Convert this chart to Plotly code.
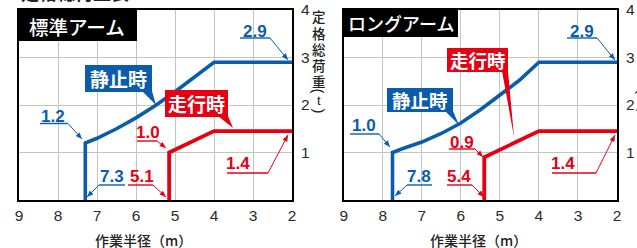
import math
import plotly.graph_objects as go

W, H = 637, 248

# ---------------- data ----------------
x_ticks = [9, 8, 7, 6, 5, 4, 3, 2]
y_ticks = [1, 2, 3, 4]

std_static_x = [7.3, 7.3, 7.0, 6.5, 6.0, 5.5, 5.0, 4.5, 4.0, 2.0]
std_static_y = [0.0, 1.2, 1.3, 1.5, 1.73, 1.99, 2.28, 2.58, 2.9, 2.9]
std_travel_x = [5.15, 5.15, 4.0, 2.0]
std_travel_y = [0.0, 1.0, 1.45, 1.45]

long_static_x = [7.75, 7.75, 7.5, 7.0, 6.5, 6.0, 5.5, 5.0, 4.5, 4.0, 2.0]
long_static_y = [0.0, 1.0, 1.08, 1.22, 1.4, 1.62, 1.9, 2.2, 2.52, 2.9, 2.9]
long_travel_x = [5.4, 5.4, 4.0, 2.0]
long_travel_y = [0.0, 0.9, 1.45, 1.45]

panel_titles = ["標準アーム", "ロングアーム"]
x_title = "作業半径（m）"
y_title_chars = ["定", "格", "総", "荷", "重", "(", "t", ")"]
top_title = "定格総荷重表"

BLUE = "#0b5dab"
RED = "#e60012"
CJK = "Noto Sans CJK JP"
NUM = "Liberation Sans"


def px(x, y):
    return x / W, 1 - y / H


fig = go.Figure()

fig.add_trace(go.Scatter(x=std_static_x, y=std_static_y, mode="lines",
                         line=dict(color=BLUE, width=3.6), xaxis="x", yaxis="y",
                         showlegend=False, hoverinfo="skip"))
fig.add_trace(go.Scatter(x=std_travel_x, y=std_travel_y, mode="lines",
                         line=dict(color=RED, width=3.8), xaxis="x", yaxis="y",
                         showlegend=False, hoverinfo="skip"))
fig.add_trace(go.Scatter(x=long_static_x, y=long_static_y, mode="lines",
                         line=dict(color=BLUE, width=3.6), xaxis="x2", yaxis="y2",
                         showlegend=False, hoverinfo="skip"))
fig.add_trace(go.Scatter(x=long_travel_x, y=long_travel_y, mode="lines",
                         line=dict(color=RED, width=3.8), xaxis="x2", yaxis="y2",
                         showlegend=False, hoverinfo="skip"))

ydom = [(H - 200) / H, (H - 10) / H]
axis_common = dict(showline=True, linecolor="black", linewidth=2, mirror=True,
                   showgrid=True, gridcolor="#c4c4c4", gridwidth=1, zeroline=False,
                   ticks="", fixedrange=True, automargin=False)

xcommon = dict(axis_common, range=[9, 2], tickvals=x_ticks, ticktext=[str(t) for t in x_ticks],
               tickfont=dict(family=NUM, size=15.5, color="#2a2a2a"), ticklabelstandoff=0)
ycommon = dict(axis_common, range=[0, 4], tickvals=y_ticks, ticktext=[str(t) for t in y_ticks],
               side="right", tickfont=dict(family=NUM, size=15.5, color="#2a2a2a"),
               ticklabelstandoff=4)

fig.update_layout(
    template="none",
    width=W, height=H,
    margin=dict(l=0, r=0, t=0, b=0, pad=0, autoexpand=False),
    paper_bgcolor="white", plot_bgcolor="white",
    xaxis=dict(xcommon, domain=[19 / W, 292 / W], anchor="y"),
    yaxis=dict(ycommon, domain=ydom, anchor="x"),
    xaxis2=dict(xcommon, domain=[343.7 / W, 617 / W], anchor="y2"),
    yaxis2=dict(ycommon, domain=ydom, anchor="x2"),
)

shapes = []
annotations = []


def rect(x0, y0, x1, y1, color):
    a0, b0 = px(x0, y0)
    a1, b1 = px(x1, y1)
    shapes.append(dict(type="rect", xref="paper", yref="paper", x0=a0, y0=b1, x1=a1, y1=b0,
                       fillcolor=color, line=dict(width=0), layer="above"))


def poly(points, color, fill=True, width=1):
    s = ""
    for i, (x, y) in enumerate(points):
        a, b = px(x, y)
        s += ("M" if i == 0 else "L") + f"{a:.5f},{b:.5f} "
    if fill:
        s += "Z"
        shapes.append(dict(type="path", xref="paper", yref="paper", path=s,
                           fillcolor=color, line=dict(width=0), layer="above"))
    else:
        shapes.append(dict(type="path", xref="paper", yref="paper", path=s,
                           line=dict(color=color, width=width), layer="above"))


def text(x, y, t, size, color, family=CJK, weight="normal", angle=0):
    a, b = px(x, y)
    annotations.append(dict(x=a, y=b, xref="paper", yref="paper", text=t, showarrow=False,
                            xanchor="center", yanchor="middle", textangle=angle,
                            font=dict(family=family, size=size, color=color, weight=weight)))


def leader(label, color, tc, ux0, ux1, uy, start, tip):
    text(tc[0], tc[1], label, 17, color, family=NUM, weight="bold")
    poly([(ux0, uy), (ux1, uy)], color, fill=False, width=1.4)
    poly([start, tip], color, fill=False, width=1)
    dx, dy = tip[0] - start[0], tip[1] - start[1]
    L = math.hypot(dx, dy)
    ux, uy2 = dx / L, dy / L
    bl, hw = 6.5, 2.6
    bx, by = tip[0] - ux * bl, tip[1] - uy2 * bl
    nx, ny = -uy2, ux
    poly([tip, (bx + nx * hw, by + ny * hw), (bx - nx * hw, by - ny * hw)], color)


# panel title boxes
rect(18, 10, 137, 41, "black")
text(77, 26.5, panel_titles[0], 19.5, "white", weight=500)
rect(343, 10, 458, 37, "black")
text(401, 23.5, panel_titles[1], 18, "white", weight=500)

# speech-bubble labels
rect(85, 65, 152, 92, BLUE)
poly([(142, 91), (152, 91), (156, 105)], BLUE)
text(118.5, 78.5, "<b>静止時</b>", 19, "white")
rect(165, 90, 228, 117, RED)
poly([(218, 116), (228, 116), (233, 128)], RED)
text(196.5, 103.5, "<b>走行時</b>", 19, "white")

rect(387, 88, 453, 112, BLUE)
poly([(445, 111), (453, 111), (459, 125)], BLUE)
text(420, 100, "<b>静止時</b>", 18.5, "white")
rect(447, 48, 508, 72, RED)
poly([(502, 71), (508, 71), (514, 137)], RED)
text(477.5, 60, "<b>走行時</b>", 18.5, "white")

# value leaders — standard arm
leader("2.9", BLUE, (255, 31), 240, 270, 38, (270, 38), (288, 60))
leader("1.2", BLUE, (53, 116), 40, 68, 123.5, (68, 123.5), (82, 139))
leader("1.0", RED, (148, 132), 137, 157, 141, (157, 141), (166, 148))
leader("7.3", BLUE, (112, 176), 99, 125, 185, (99, 185), (87, 197))
leader("5.1", RED, (142, 176), 128, 153, 185, (153, 185), (166, 197))
leader("1.4", RED, (238, 163), 227, 268, 173, (268, 173), (288, 135))
# value leaders — long arm
leader("2.9", BLUE, (582, 31), 567, 597, 38, (597, 38), (615, 60))
leader("1.0", BLUE, (364, 125), 350, 379, 134, (379, 134), (390, 147))
leader("0.9", RED, (462, 142), 449, 475, 149, (475, 149), (483, 157))
leader("7.8", BLUE, (419, 176), 407, 432, 185, (407, 185), (395, 196))
leader("5.4", RED, (459, 176), 447, 472, 185, (472, 185), (484, 197))
leader("1.4", RED, (563, 163), 552, 596, 173, (596, 173), (615, 135))

# axis titles
text(143, 240, x_title, 14, "#222", weight=500)
text(478, 240, x_title, 14, "#222", weight=500)
ys = [16, 32.5, 49, 65, 81, 91, 100.5, 111]
for cx in (318.5, 644):
    for ch, yy in zip(y_title_chars, ys):
        if ch in "()":
            text(cx, yy, ch, 15, "#222", family=NUM, angle=90)
        elif ch == "t":
            text(cx, yy, ch, 13, "#222", family=NUM)
        else:
            text(cx, yy, ch, 13.5, "#222", weight=500)

# chart heading (cut off at top edge)
text(75, -8, top_title, 18, "#222", weight="bold")

fig.update_layout(shapes=shapes, annotations=annotations)
fig.write_html("out.html", config={"displayModeBar": False},
               post_script="document.body.style.margin='0';document.body.style.overflow='hidden';")
